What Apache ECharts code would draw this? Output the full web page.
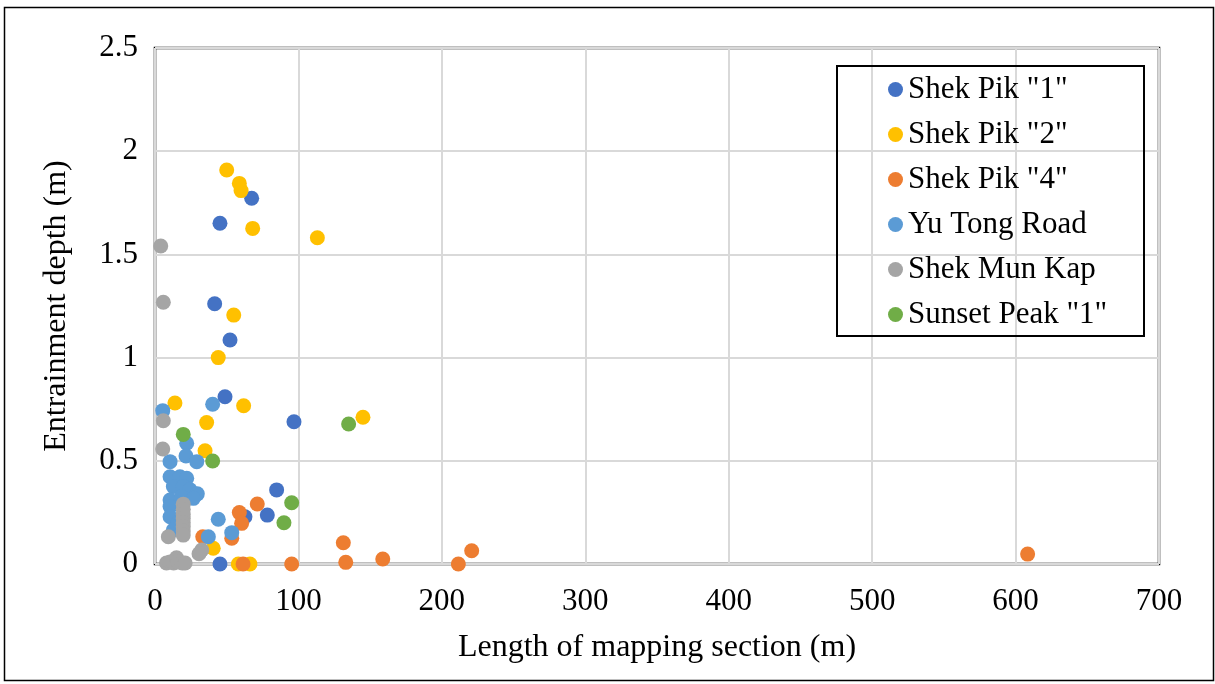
<!DOCTYPE html>
<html>
<head>
<meta charset="utf-8">
<script src="https://cdn.jsdelivr.net/npm/echarts@6/dist/echarts.min.js"></script>
<style>html,body{margin:0;padding:0;background:#fff}#c{width:1215px;height:684px}</style>
</head>
<body>
<div id="c"></div>
<script>
const seriesNames = ['Shek Pik "1"', 'Shek Pik "2"', 'Shek Pik "4"', 'Yu Tong Road', 'Shek Mun Kap', 'Sunset Peak "1"'];
const seriesColors = ['#4472C4', '#FFC000', '#ED7D31', '#5B9BD5', '#A5A5A5', '#70AD47'];
const xTicks = [0, 100, 200, 300, 400, 500, 600, 700];
const yTicks = [0, 0.5, 1, 1.5, 2, 2.5];

const shekPik1 = [[67.4,1.772],[45.3,1.651],[41.6,1.261],[52.3,1.085],[48.8,0.81],[96.9,0.689],[84.8,0.359],[78.3,0.237],[62.7,0.229],[45.3,0]];
const shekPik2 = [[50.0,1.909],[58.8,1.844],[60.0,1.809],[68.1,1.626],[113.2,1.581],[54.9,1.206],[44.1,1.0],[13.9,0.78],[61.8,0.767],[36.0,0.685],[145.0,0.711],[34.9,0.549],[40.6,0.076],[58.1,0],[66.2,0]];
const shekPik4 = [[71.3,0.291],[58.8,0.249],[60.4,0.197],[53.5,0.125],[33.3,0.132],[61.4,0],[95.3,0],[131.3,0.103],[133.0,0.008],[158.8,0.024],[211.5,0],[220.8,0.064],[608.4,0.048]];
const yuTongRoad = [[5.4,0.743],[40.2,0.774],[22.1,0.585],[21.6,0.523],[10.5,0.496],[29.1,0.496],[10.5,0.423],[17.4,0.423],[22.1,0.415],[12.8,0.375],[19.7,0.375],[24.4,0.36],[29.5,0.34],[10.5,0.31],[18.6,0.326],[26.7,0.318],[10.5,0.278],[10.5,0.229],[16,0.2],[15.1,0.181],[12.8,0.165],[44.1,0.217],[53.5,0.152],[37.2,0.132]];
const shekMunKap = [[4.0,1.541],[5.8,1.268],[5.8,0.694],[5.4,0.557],[19.7,0.29],[19.7,0.265],[19.7,0.24],[19.7,0.22],[19.7,0.2],[19.7,0.18],[19.7,0.16],[19.7,0.14],[9.3,0.132],[32.6,0.068],[30.7,0.05],[8,0.005],[10.5,0.01],[13,0.005],[15,0.03],[16,0.01],[19,0.005],[21,0.005]];
const sunsetPeak1 = [[19.7,0.628],[40.2,0.499],[135.0,0.678],[95.3,0.297],[89.9,0.2]];

const allData = [shekPik1, shekPik2, shekPik4, yuTongRoad, shekMunKap, sunsetPeak1];
const FONT = '"Liberation Serif", "Times New Roman", serif';

const chart = echarts.init(document.getElementById('c'), null, {renderer: 'canvas'});
chart.setOption({
  animation: false,
  backgroundColor: '#fff',
  textStyle: {fontFamily: FONT, color: '#000'},
  grid: {left: 155, right: 56, top: 48, bottom: 120, show: true, borderColor: '#000', borderWidth: 2.5, backgroundColor: 'transparent'},
  xAxis: {
    type: 'value', min: xTicks[0], max: xTicks[xTicks.length - 1], interval: 100,
    name: 'Length of mapping section (m)', nameLocation: 'middle', nameGap: 68,
    nameTextStyle: {fontFamily: FONT, fontSize: 32, color: '#000'},
    axisLine: {show: false}, axisTick: {show: false},
    axisLabel: {fontFamily: FONT, fontSize: 31, color: '#000', margin: 22},
    splitLine: {show: true, lineStyle: {color: '#D9D9D9', width: 2}}
  },
  yAxis: {
    type: 'value', min: yTicks[0], max: yTicks[yTicks.length - 1], interval: 0.5,
    name: 'Entrainment depth (m)', nameLocation: 'middle', nameGap: 82, nameRotate: 90,
    nameTextStyle: {fontFamily: FONT, fontSize: 32, color: '#000'},
    axisLine: {show: false}, axisTick: {show: false},
    axisLabel: {fontFamily: FONT, fontSize: 31, color: '#000', margin: 17},
    splitLine: {show: true, lineStyle: {color: '#D9D9D9', width: 2}}
  },
  legend: {
    orient: 'vertical', left: 883, top: 69, itemWidth: 15, itemHeight: 15, itemGap: 14, itemTextGap: 7,
    icon: 'circle', data: seriesNames,
    textStyle: {fontFamily: FONT, fontSize: 31, lineHeight: 31, color: '#000'}
  },
  graphic: [
    {type: 'rect', silent: true, z: 100, shape: {x: 4.5, y: 7.5, width: 1209, height: 673}, style: {fill: 'none', stroke: '#000', lineWidth: 1.5}},
    {type: 'rect', silent: true, z: 100, shape: {x: 837, y: 66, width: 307, height: 270}, style: {fill: 'none', stroke: '#000', lineWidth: 2}}
  ],
  series: seriesNames.map((n, i) => ({
    name: n, type: 'scatter', data: allData[i], symbol: 'circle', symbolSize: 15,
    itemStyle: {color: seriesColors[i], opacity: 1}, z: 2 + i
  }))
});
</script>
</body>
</html>
